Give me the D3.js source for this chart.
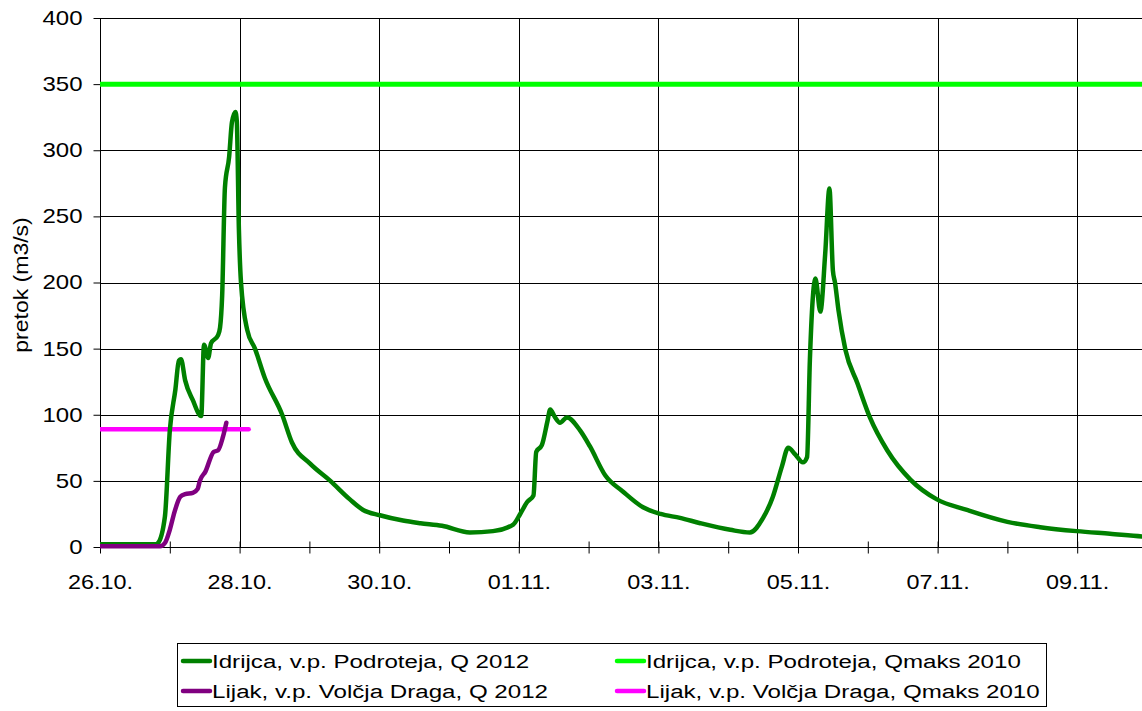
<!DOCTYPE html>
<html>
<head>
<meta charset="utf-8">
<title>Pretok Idrijca / Lijak</title>
<script src="https://d3js.org/d3.v7.min.js"></script>
<style>
  body { margin: 0; background: #fff; }
  text { font-family: "Liberation Sans", Arial, sans-serif; fill: #000; }
</style>
</head>
<body>
<div id="chart"></div>
<script>
// time axis: days after 26.10.2012 00:00
var startDate = Date.UTC(2012, 9, 26);
var endDate = Date.UTC(2012, 10, 10);

// Idrijca, v.p. Podroteja, Q 2012
var idrijcaDays = [0, 0.79, 0.83, 0.93, 1.00, 1.08, 1.13, 1.16, 1.22, 1.33, 1.45, 1.49, 1.55, 1.59,
  1.69, 1.72, 1.75, 1.79, 1.85, 1.89, 1.94, 1.96, 1.99, 2.02, 2.11, 2.22, 2.36, 2.61, 2.75,
  3.01, 3.30, 3.58, 3.77, 4.01, 4.34, 4.59, 4.90, 5.30, 5.63, 5.92, 6.02, 6.12, 6.21, 6.25,
  6.33, 6.41, 6.45, 6.52, 6.59, 6.69, 6.88, 7.02, 7.24, 7.49, 7.78, 8.03, 8.31, 8.60, 9.03,
  9.31, 9.50, 9.64, 9.77, 9.86, 9.96, 10.07, 10.13, 10.17, 10.25, 10.32, 10.39, 10.45, 10.50,
  10.53, 10.58, 10.68, 10.85, 11.03, 11.28, 11.61, 11.99, 12.42, 13.00, 13.47, 13.99, 14.47, 14.93, 15.1];
var idrijcaQ = [2, 2, 3, 23, 88, 119, 141, 142, 126, 111, 99, 153, 143, 154,
  160, 166, 190, 272, 295, 321, 329, 322, 240, 200, 164, 150, 128, 100, 79,
  63, 50, 36, 28, 24, 20, 18, 16, 11, 12, 17, 25, 34, 39, 72,
  77, 95, 104, 98, 94, 98, 88, 76, 54, 42, 30, 25, 22, 18, 13,
  11, 22, 38, 61, 75, 70, 64, 68, 141, 203, 178, 222, 271, 209,
  200, 179, 149, 124, 98, 73, 51, 36, 28, 19, 15, 12, 10, 8, 7.5];

// Lijak, v.p. Volcja Draga, Q 2012
var lijakDays = [0, 0.86, 0.93, 1.00, 1.07, 1.15, 1.22, 1.33, 1.40, 1.43, 1.51, 1.63, 1.69, 1.76, 1.81];
var lijakQ = [0.5, 0.5, 3, 13, 27, 38, 40, 41, 44, 50, 57, 72, 73, 83, 94];

// Qmaks 2010 levels
var idrijcaQmax = 350;
var lijakQmax = 89;
var lijakQmaxEndDay = 2.13;

var yTicks = [0, 50, 100, 150, 200, 250, 300, 350, 400];
var yLabel = "pretok (m3/s)";
var legendNames = ["Idrijca, v.p. Podroteja, Q 2012", "Idrijca, v.p. Podroteja, Qmaks 2010",
                   "Lijak, v.p. Volčja Draga, Q 2012", "Lijak, v.p. Volčja Draga, Qmaks 2010"];

var colors = ["#008000", "#00ff00", "#800080", "#ff00ff"];

function toDate(d) { return new Date(startDate + d * 864e5); }

var svg = d3.select("#chart")
            .append("svg")
            .attr("width", 1142)
            .attr("height", 711)
            .style("background-color", "#fff");

var plotLeft = 100, plotTop = 18, plotBottom = 547, plotRight = 1142;

var x = d3.scaleUtc()
          .domain([new Date(startDate), new Date(endDate)])
          .range([plotLeft, 1147]);

var y = d3.scaleLinear()
          .domain([0, 400])
          .range([plotBottom, plotTop]);

// stretch text horizontally like the reference rendering
function stretchText(sel, sx) {
  sel.each(function() {
    var t = d3.select(this);
    var tx = +t.attr("x") || 0, ty = +t.attr("y") || 0;
    t.attr("x", 0).attr("y", 0)
     .attr("transform", "translate(" + tx + "," + ty + ") scale(" + sx + ",1)");
  });
}

var days = d3.utcDay.range(new Date(startDate), new Date(endDate));
var majorDays = days.filter((d, i) => i % 2 === 0);

// grid
svg.append("g")
   .selectAll("line")
   .data(yTicks.slice(1))
   .join("line")
   .attr("x1", plotLeft).attr("x2", plotRight)
   .attr("y1", d => Math.round(y(d)) + 0.5).attr("y2", d => Math.round(y(d)) + 0.5)
   .attr("stroke", "#000").attr("stroke-width", 1);

svg.append("g")
   .selectAll("line")
   .data(majorDays.slice(1))
   .join("line")
   .attr("x1", d => Math.round(x(d)) + 0.5).attr("x2", d => Math.round(x(d)) + 0.5)
   .attr("y1", plotTop).attr("y2", plotBottom)
   .attr("stroke", "#000").attr("stroke-width", 1);

// x axis
var fmt = d3.utcFormat("%d.%m.");
var xAxis = svg.append("g")
   .attr("transform", `translate(0, ${plotBottom + 0.5})`)
   .call(d3.axisBottom(x).tickValues(days).tickSize(6)
           .tickFormat((d, i) => i % 2 === 0 ? fmt(d) : ""));
xAxis.select(".domain").attr("stroke", "#000").attr("d", "M" + plotLeft + ",0H" + plotRight);
xAxis.selectAll(".tick line").attr("y1", -6).attr("stroke", "#000");
xAxis.selectAll(".tick text").attr("font-size", 20).attr("y", 27)
     .attr("font-family", "Liberation Sans, Arial, sans-serif");
stretchText(xAxis.selectAll(".tick text"), 1.17);

// y axis
var yAxis = svg.append("g")
   .attr("transform", `translate(${plotLeft + 0.5}, 0)`)
   .call(d3.axisLeft(y).tickValues(yTicks).tickSize(7).tickPadding(11));
yAxis.select(".domain").attr("stroke", "#000").attr("d", "M0," + plotTop + "V" + plotBottom);
yAxis.selectAll(".tick line").attr("stroke", "#000");
yAxis.selectAll(".tick text").attr("font-size", 20)
     .attr("font-family", "Liberation Sans, Arial, sans-serif");
stretchText(yAxis.selectAll(".tick text"), 1.2);

svg.append("text")
   .attr("transform", "translate(28, 285) rotate(-90) scale(1.15,1)")
   .attr("text-anchor", "middle")
   .attr("font-size", 20)
   .text(yLabel);

// series
svg.append("clipPath").attr("id", "clip")
   .append("rect").attr("x", plotLeft).attr("y", 0)
   .attr("width", plotRight - plotLeft).attr("height", plotBottom + 3);
var plot = svg.append("g").attr("clip-path", "url(#clip)");

var line = d3.line()
             .x(d => x(toDate(d[0])))
             .y(d => y(d[1]));

plot.append("path")
    .datum([[0, idrijcaQmax], [15, idrijcaQmax]])
    .attr("fill", "none").attr("stroke", colors[1]).attr("stroke-width", 5)
    .attr("d", line);

plot.append("path")
    .datum([[0, lijakQmax], [lijakQmaxEndDay, lijakQmax]])
    .attr("fill", "none").attr("stroke", colors[3]).attr("stroke-width", 4.5)
    .attr("stroke-linecap", "round")
    .attr("d", line);

var curve = d3.line()
              .x(d => x(toDate(d[0])))
              .y(d => y(d[1]))
              .curve(d3.curveMonotoneX);

plot.append("path")
    .datum(d3.zip(idrijcaDays, idrijcaQ))
    .attr("fill", "none").attr("stroke", colors[0]).attr("stroke-width", 4.5)
    .attr("stroke-linejoin", "round").attr("stroke-linecap", "round")
    .attr("d", curve);

plot.append("path")
    .datum(d3.zip(lijakDays, lijakQ))
    .attr("fill", "none").attr("stroke", colors[2]).attr("stroke-width", 4.5)
    .attr("stroke-linejoin", "round").attr("stroke-linecap", "round")
    .attr("d", curve);

// legend
var legend = svg.append("g");
legend.append("rect")
      .attr("x", 177.5).attr("y", 643.5).attr("width", 869).attr("height", 63)
      .attr("fill", "#fff").attr("stroke", "#000");

var entries = legend.selectAll("g")
   .data(legendNames)
   .join("g")
   .attr("transform", (d, i) => `translate(${i % 2 === 0 ? 183 : 617}, ${i < 2 ? 661 : 691})`);

entries.append("line")
       .attr("x1", 0).attr("x2", 27).attr("y1", 0).attr("y2", 0)
       .attr("stroke", (d, i) => colors[i]).attr("stroke-width", 4.5)
       .attr("stroke-linecap", "round");

entries.append("text")
       .attr("x", 29).attr("y", 0).attr("dy", "0.36em")
       .attr("font-size", 19)
       .text(d => d);
stretchText(entries.selectAll("text"), 1.27);
</script>
</body>
</html>
